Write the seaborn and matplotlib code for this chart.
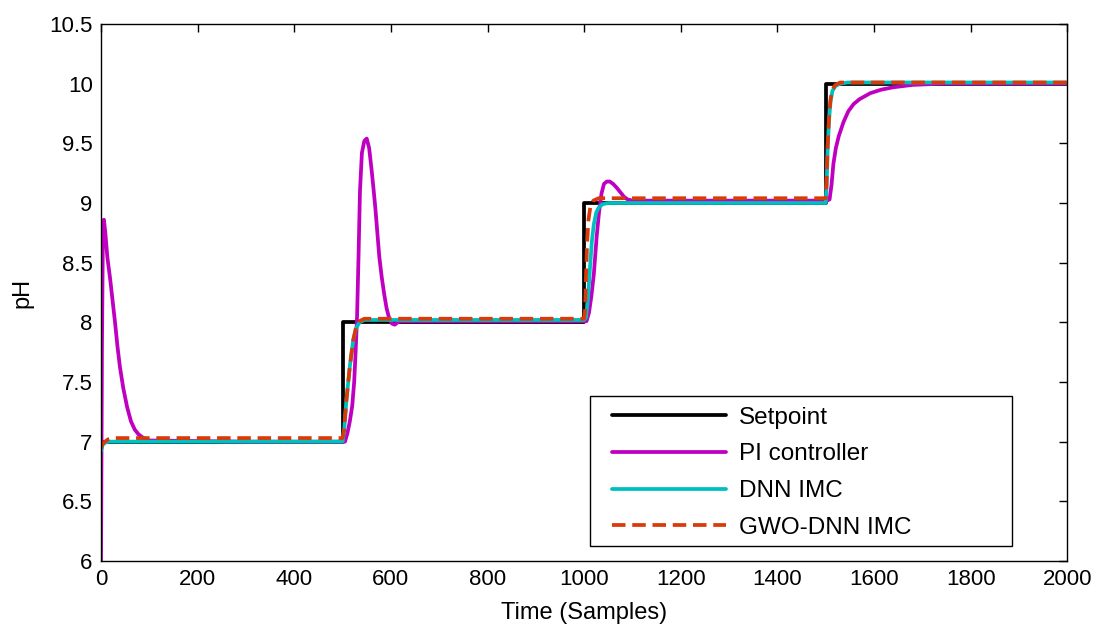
"""
plot.py
-------
pH response of the setpoint tracking test: Setpoint, PI controller,
DNN IMC and GWO-DNN IMC.

Output:
    out.png
"""

import pandas as pd
import matplotlib
matplotlib.use("Agg")
import matplotlib.pyplot as plt
from matplotlib.patches import Rectangle
import seaborn as sns

# =========================
# Data
# =========================
setpoint_t = [0, 500, 500, 1000, 1000, 1500, 1500, 2000]
setpoint_ph = [7, 7, 8, 8, 9, 9, 10, 10]

pi_t = [0, 2, 4, 6, 9, 13, 19, 24, 29, 34, 39, 46, 54, 62, 70, 78, 88, 100,
        300, 505, 510, 515, 520, 524, 527, 530, 533, 536, 540, 545, 550, 555,
        560, 564, 568, 572, 576, 581, 586, 591, 596, 602, 608, 614, 620, 800,
        1005, 1010, 1015, 1020, 1026, 1031, 1036, 1041, 1047, 1053, 1060, 1067,
        1075, 1083, 1090, 1100, 1300, 1503, 1508, 1512, 1516, 1521, 1527, 1537,
        1547, 1558, 1570, 1592, 1615, 1640, 1680, 1740, 2000]
pi_ph = [6.0, 7.8, 8.8, 8.86, 8.75, 8.55, 8.36, 8.18, 8.0, 7.8, 7.63, 7.45,
         7.29, 7.17, 7.1, 7.06, 7.03, 7.01,
         7.0, 7.0, 7.07, 7.17, 7.3, 7.5, 7.75, 8.05, 8.55, 9.1, 9.42, 9.52,
         9.54, 9.46, 9.28, 9.12, 8.95, 8.75, 8.55, 8.38, 8.24, 8.12, 8.04,
         7.99, 7.98, 8.0, 8.01, 8.01,
         8.01, 8.08, 8.22, 8.4, 8.72, 8.93, 9.08, 9.16, 9.18, 9.18, 9.16, 9.13,
         9.09, 9.05, 9.03, 9.02, 9.02, 9.02, 9.03, 9.15, 9.33, 9.46, 9.56, 9.68,
         9.77, 9.83, 9.87, 9.92, 9.95, 9.97, 9.99, 10.0, 10.0]

dnn_t = [0, 3, 8, 15, 30, 500, 503, 508, 515, 522, 528, 535, 545, 560, 1000,
         1004, 1008, 1012, 1016, 1020, 1025, 1030, 1038, 1050, 1500, 1502, 1504,
         1507, 1510, 1514, 1520, 1530, 1545, 2000]
dnn_ph = [6.92, 6.97, 6.99, 7.0, 7.0, 7.0, 7.08, 7.35, 7.63, 7.85, 7.95, 8.0,
          8.02, 8.02, 8.02,
          8.04, 8.2, 8.45, 8.68, 8.82, 8.92, 8.96, 8.99, 9.0, 9.0, 9.15, 9.45,
          9.7, 9.85, 9.94, 9.98, 10.0, 10.01, 10.01]

gwo_t = [0, 3, 8, 15, 25, 500, 503, 508, 515, 522, 528, 535, 545, 1000, 1002,
         1004, 1006, 1009, 1013, 1019, 1030, 1500, 1502, 1504, 1507, 1510, 1514,
         1520, 1530, 2000]
gwo_ph = [6.94, 6.98, 7.0, 7.02, 7.03, 7.03, 7.1, 7.35, 7.63, 7.85, 7.96, 8.01,
          8.03, 8.03, 8.1, 8.4, 8.65, 8.86, 8.97, 9.02, 9.04, 9.04, 9.2, 9.48,
          9.72, 9.87, 9.95, 9.99, 10.01, 10.01]

series = [
    ("Setpoint", setpoint_t, setpoint_ph, "black", "-"),
    ("PI controller", pi_t, pi_ph, "#C000C0", "-"),
    ("DNN IMC", dnn_t, dnn_ph, "#00BFBF", "-"),
    ("GWO-DNN IMC", gwo_t, gwo_ph, "#D93A0A", (0, (3.6, 1.8))),
]

# =========================
# Plot
# =========================
sns.set_theme(style="white")
plt.rcParams["font.family"] = ["Liberation Sans", "DejaVu Sans"]
plt.rcParams["text.color"] = "black"
plt.rcParams["axes.labelcolor"] = "black"

fig = plt.figure(figsize=(10.98, 6.24), dpi=100)
ax = fig.add_axes([0.092, 0.101, 0.880, 0.8605])

for name, t, ph, color, ls in series:
    df = pd.DataFrame({"t": t, "ph": ph})
    sns.lineplot(data=df, x="t", y="ph", ax=ax, estimator=None, sort=False,
                 color=color, lw=2.7, ls=ls, label=name)

ax.set_xlim(0, 2000)
ax.set_ylim(6, 10.5)
ax.set_xticks(range(0, 2001, 200))
ax.set_yticks([6 + 0.5 * i for i in range(10)])
ax.set_yticklabels(["6", "6.5", "7", "7.5", "8", "8.5", "9", "9.5", "10", "10.5"])

ax.tick_params(direction="in", length=6, width=1, colors="black",
               top=True, right=True, labelsize=16)
ax.tick_params(axis="x", pad=6)
ax.tick_params(axis="y", pad=6)
for sp in ax.spines.values():
    sp.set_color("black")
    sp.set_linewidth(1)

ax.set_xlabel("Time (Samples)", fontsize=17)
ax.set_ylabel("pH", fontsize=17)
ax.xaxis.set_label_coords(0.5, -0.077)
ax.yaxis.set_label_coords(-0.070, 0.5)

# legend box (MATLAB style, square frame)
ax.add_patch(Rectangle((0.506, 0.028), 0.437, 0.279, transform=ax.transAxes,
                       facecolor="white", edgecolor="black", lw=1, zorder=4))
leg = ax.legend(loc="upper left", bbox_to_anchor=(0.529, 0.287),
                fontsize=17.5, frameon=False, handlelength=4.7,
                handletextpad=0.5, labelspacing=0.6, borderpad=0,
                borderaxespad=0)
leg.set_zorder(5)

fig.savefig("out.png", dpi=100)
